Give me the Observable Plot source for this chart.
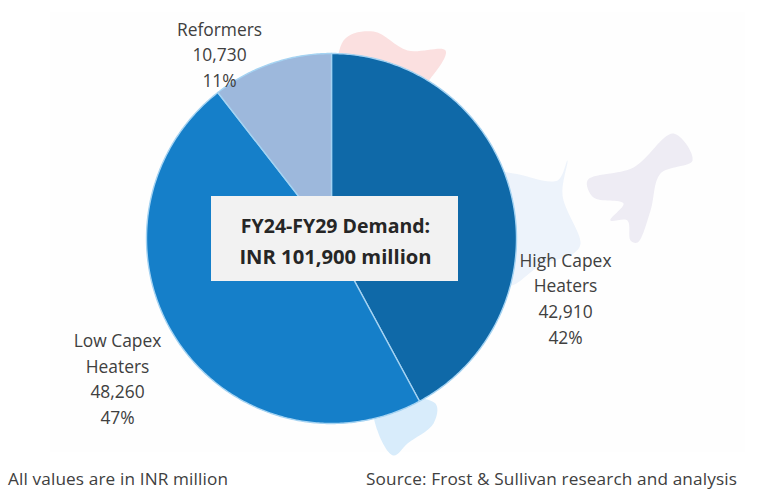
<!DOCTYPE html>
<html><head><meta charset="utf-8">
<script src="https://cdn.jsdelivr.net/npm/d3@7"></script>
<script src="https://cdn.jsdelivr.net/npm/@observablehq/plot@0.6"></script>
<style>
html,body{margin:0;padding:0;background:#fff;}
#wrap{width:771px;height:489px;position:relative;overflow:hidden;}
#cap{position:absolute;left:0;top:469px;width:771px;height:20px;font:17.2px/20px "Open Sans",sans-serif;letter-spacing:0.13px;color:#404040;}
#cap span{position:absolute;top:0;white-space:nowrap;}
svg{display:block;}
</style></head><body>
<div id="wrap"><div id="chart"></div>
<div id="cap"><span id="capL" style="left:8px">All values are in INR million</span><span id="capR" style="left:366px">Source: Frost &amp; Sullivan research and analysis</span></div></div>
<script>
const categories = ["High Capex Heaters", "Low Capex Heaters", "Reformers"];
const labelLines = [["High Capex", "Heaters"], ["Low Capex", "Heaters"], ["Reformers"]];
const values = [42910, 48260, 10730];
const shares = ["42%", "47%", "11%"];
const colors = ["#0f69a8", "#157fc9", "#9db8dc"];
const centerLines = ["FY24-FY29 Demand:", "INR 101,900 million"];

// faint background map of India, [longitude, latitude]
const mapNorth = [[74.41,36.23],[76.38,36.84],[78.62,35.55],[81.12,35.55],[80.13,33.65],[76.84,30.79],[74.41,30.79]];
const mapNortheast = [[96.12,29.9],[97.37,28.07],[95.26,27.18],[94.61,24.67],[93.75,22.49],[93.29,22.63],[93.09,23.99],[91.97,23.99],[92.83,25.14],[90.86,25.55],[90.46,26.71],[93.49,27.59]];
const mapEast = [[84.74,27.18],[85.59,27.18],[88.49,26.71],[89.14,28.07],[88.82,25.69],[90.0,22.42],[89.54,21.74],[87.37,20.93],[85.4,19.56],[84.74,20]];
const mapSouth = [[80.46,11.54],[80.33,10.18],[78.62,8.82],[77.7,8.0],[76.64,9.7],[76.5,11.74]];

// page geometry: pie centre and radius in pixels; the x/y scales are in pie radii
const W = 771, H = 468, cx = 331, cy = 238, R = 185;
const ux = px => (px - cx) / R, uy = py => (cy - py) / R;
const mapX = lon => ux(390 + 15.2 * (lon - 77.5));
const mapY = lat => uy(455 - 14.7 * (lat - 8));
const mapPts = pts => pts.map(([lon, lat]) => ({u: mapX(lon), v: mapY(lat)}));

const arcs = d3.pie().sort(null)(values);
const slices = arcs.flatMap((a, i) => {
  const n = Math.ceil((a.endAngle - a.startAngle) * 90);
  const rim = d3.range(n + 1).map(k => {
    const t = a.startAngle + (a.endAngle - a.startAngle) * k / n;
    return {u: Math.sin(t), v: Math.cos(t), cat: categories[i]};
  });
  return [{u: 0, v: 0, cat: categories[i]}, ...rim, {u: 0, v: 0, cat: categories[i]}];
});

const fmt = d3.format(",");
const labels = categories.map((c, i) => ({
  text: [...labelLines[i], fmt(values[i]), shares[i]].join("\n"),
  u: ux([565, 117, 219][i]), v: uy([296.5, 377, 52.5][i])
}));

const mapRegions = [
  [mapNorth, "#fbe0e0"], [mapNortheast, "#eeecf4"], [mapEast, "#edf3fb"], [mapSouth, "#d8ecfb"]
];

const chart = Plot.plot({
  width: W, height: H, margin: 0,
  style: {background: "#fff"},
  x: {domain: [ux(0), ux(W)], axis: null},
  y: {domain: [uy(H), uy(0)], axis: null},
  color: {domain: categories, range: colors},
  marks: [
    Plot.rect([0], {x1: ux(50), x2: ux(745), y1: uy(12), y2: uy(452), fill: "#fefefe"}),
    ...mapRegions.map(([pts, col]) => Plot.line(mapPts(pts), {x: "u", y: "v", fill: col, stroke: "none", curve: "catmull-rom-closed"})),
    Plot.line(slices, {x: "u", y: "v", z: "cat", fill: "cat", stroke: "#a5d3f2", strokeWidth: 1.4, strokeLinejoin: "round"}),
    Plot.rect([0], {x1: ux(211), x2: ux(458), y1: uy(196), y2: uy(281), fill: "#f2f2f2"}),
    Plot.text([centerLines[0]], {x: ux(335), y: uy(226), text: d => d, fontFamily: "Open Sans", fontWeight: 700, fontSize: 19.5, fill: "#262626"}),
    Plot.text([centerLines[1]], {x: ux(335), y: uy(257), text: d => d, fontFamily: "Open Sans", fontWeight: 700, fontSize: 20.2, fill: "#262626"}),
    Plot.text(labels, {x: "u", y: "v", text: "text", lineHeight: 1.47, fontFamily: "Open Sans", fontSize: 17.4, fill: "#404040"})
  ]
});
document.getElementById("chart").append(chart);
</script>
</body></html>
